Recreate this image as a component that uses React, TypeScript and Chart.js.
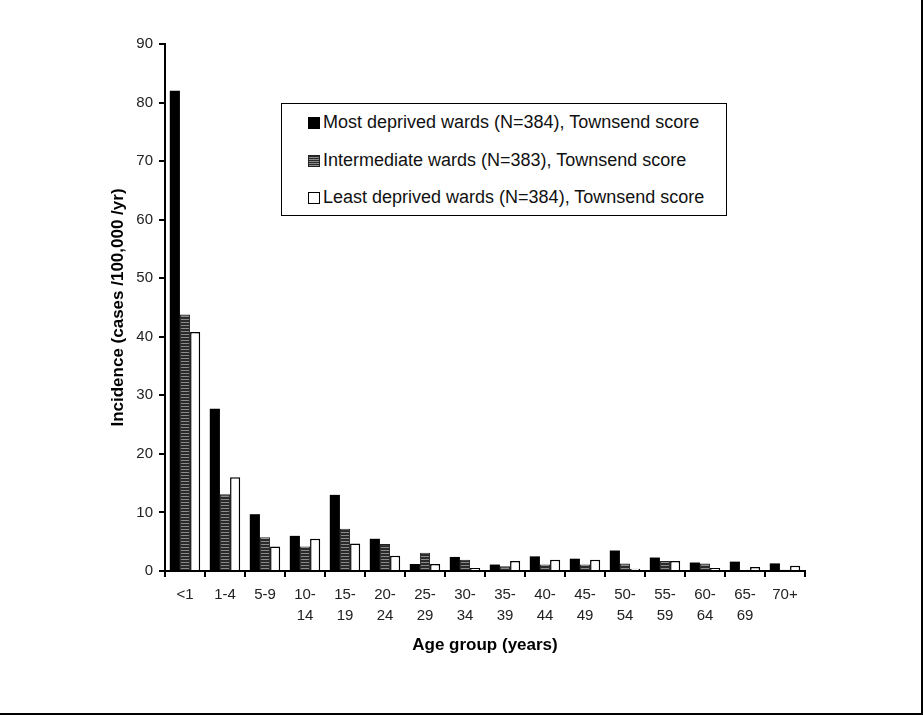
import { useEffect, useRef } from 'react';
import { Chart, registerables } from 'chart.js';

Chart.register(...registerables);

const ageGroups: string[][] = [
  ['<1'], ['1-4'], ['5-9'], ['10-', '14'], ['15-', '19'], ['20-', '24'], ['25-', '29'], ['30-', '34'],
  ['35-', '39'], ['40-', '44'], ['45-', '49'], ['50-', '54'], ['55-', '59'], ['60-', '64'], ['65-', '69'], ['70+'],
];

const mostDeprived = [82.0, 27.7, 9.7, 6.0, 13.0, 5.5, 1.2, 2.4, 1.1, 2.5, 2.1, 3.5, 2.3, 1.45, 1.6, 1.3];
const intermediate = [43.8, 13.1, 5.75, 4.2, 7.2, 4.6, 3.1, 1.9, 0.8, 1.1, 1.1, 1.3, 1.7, 1.3, 0, 0.2];
const leastDeprived = [40.8, 16.0, 4.2, 5.5, 4.7, 2.6, 1.2, 0.5, 1.7, 1.9, 1.9, 0.4, 1.7, 0.5, 0.7, 0.9];

const legendLabels = [
  'Most deprived wards (N=384), Townsend score',
  'Intermediate wards (N=383), Townsend score',
  'Least deprived wards (N=384), Townsend score',
];

const FONT = '"Liberation Sans", Arial, sans-serif';

// dark grey with light horizontal stripes, like the printed hatch
function makeStripes(): CanvasPattern | string {
  const c = document.createElement('canvas');
  c.width = 4;
  c.height = 3;
  const g = c.getContext('2d');
  if (!g) return '#444';
  g.fillStyle = '#2a2a2a';
  g.fillRect(0, 0, 4, 3);
  g.fillStyle = '#8a8a8a';
  g.fillRect(0, 1, 4, 1);
  return g.createPattern(c, 'repeat') ?? '#444';
}

function legendMark(kind: number) {
  const base: React.CSSProperties = {
    display: 'inline-block',
    width: 12,
    height: 12,
    boxSizing: 'border-box',
    marginRight: 3,
    verticalAlign: '-1px',
  };
  if (kind === 0) return <span style={{ ...base, background: '#000' }} />;
  if (kind === 1)
    return (
      <span
        style={{
          ...base,
          border: '1px solid #222',
          background: 'repeating-linear-gradient(#2a2a2a 0px, #2a2a2a 1px, #8a8a8a 1px, #8a8a8a 2px)',
        }}
      />
    );
  return <span style={{ ...base, border: '1.5px solid #000', background: '#fff' }} />;
}

export default function App() {
  const canvasRef = useRef<HTMLCanvasElement>(null);
  const chartRef = useRef<Chart | null>(null);

  useEffect(() => {
    if (!canvasRef.current) return;
    const ctx = canvasRef.current.getContext('2d');
    if (!ctx) return;

    const stripes = makeStripes();

    chartRef.current = new Chart(ctx, {
      type: 'bar',
      data: {
        labels: ageGroups,
        datasets: [
          {
            label: legendLabels[0],
            data: mostDeprived,
            backgroundColor: '#000',
            borderWidth: 0,
          },
          {
            label: legendLabels[1],
            data: intermediate,
            backgroundColor: stripes as any,
            borderColor: '#222',
            borderWidth: 1,
          },
          {
            label: legendLabels[2],
            data: leastDeprived,
            backgroundColor: '#fff',
            borderColor: '#000',
            borderWidth: 1.5,
          },
        ],
      },
      options: {
        responsive: false,
        animation: false,
        datasets: {
          bar: {
            categoryPercentage: 0.76,
            barPercentage: 1,
          },
        },
        layout: {
          padding: { left: 0, top: 44, right: 118, bottom: 0 },
        },
        plugins: {
          legend: { display: false },
          tooltip: { enabled: false },
        },
        scales: {
          x: {
            afterFit: (scale: any) => {
              scale.height = 144;
            },
            grid: {
              offset: true,
              drawOnChartArea: false,
              drawTicks: true,
              tickLength: 6,
              color: '#000',
              lineWidth: 2,
            },
            border: { color: '#000', width: 2 },
            ticks: {
              color: '#222',
              padding: 7,
              maxRotation: 0,
              autoSkip: false,
              font: { family: FONT, size: 15, lineHeight: 1.4 },
            },
            title: {
              display: true,
              text: 'Age group (years)',
              color: '#000',
              font: { family: FONT, size: 17, weight: 'bold' },
              padding: { top: 0, bottom: 59 },
            },
          },
          y: {
            min: 0,
            max: 90,
            afterFit: (scale: any) => {
              scale.width = 165;
            },
            grid: {
              drawOnChartArea: false,
              drawTicks: true,
              tickLength: 6,
              color: '#000',
              lineWidth: 2,
            },
            border: { color: '#000', width: 2 },
            ticks: {
              stepSize: 10,
              color: '#222',
              padding: 6,
              font: { family: FONT, size: 15 },
            },
            title: {
              display: true,
              text: 'Incidence (cases /100,000 /yr)',
              color: '#000',
              font: { family: FONT, size: 17, weight: 'bold' },
              padding: { top: 108, bottom: 0 },
            },
          },
        },
      },
    });

    return () => {
      if (chartRef.current) {
        chartRef.current.destroy();
        chartRef.current = null;
      }
    };
  }, []);

  return (
    <div
      style={{
        position: 'absolute',
        left: 0,
        top: 0,
        width: 923,
        height: 715,
        background: '#fff',
        boxSizing: 'border-box',
        borderRight: '2px solid #000',
        borderBottom: '2px solid #000',
        overflow: 'hidden',
      }}
    >
      <canvas ref={canvasRef} width={923} height={715} style={{ position: 'absolute', left: 0, top: 0 }} />
      <div
        style={{
          position: 'absolute',
          left: 281,
          top: 103,
          width: 446,
          height: 113,
          boxSizing: 'border-box',
          border: '1px solid #000',
          background: '#fff',
          fontFamily: FONT,
          fontSize: 18,
          color: '#111',
          paddingLeft: 26,
          paddingTop: 5,
        }}
      >
        {legendLabels.map((t, i) => (
          <div key={i} style={{ height: 37.5, lineHeight: '26px', whiteSpace: 'nowrap' }}>
            {legendMark(i)}
            {t}
          </div>
        ))}
      </div>
    </div>
  );
}
